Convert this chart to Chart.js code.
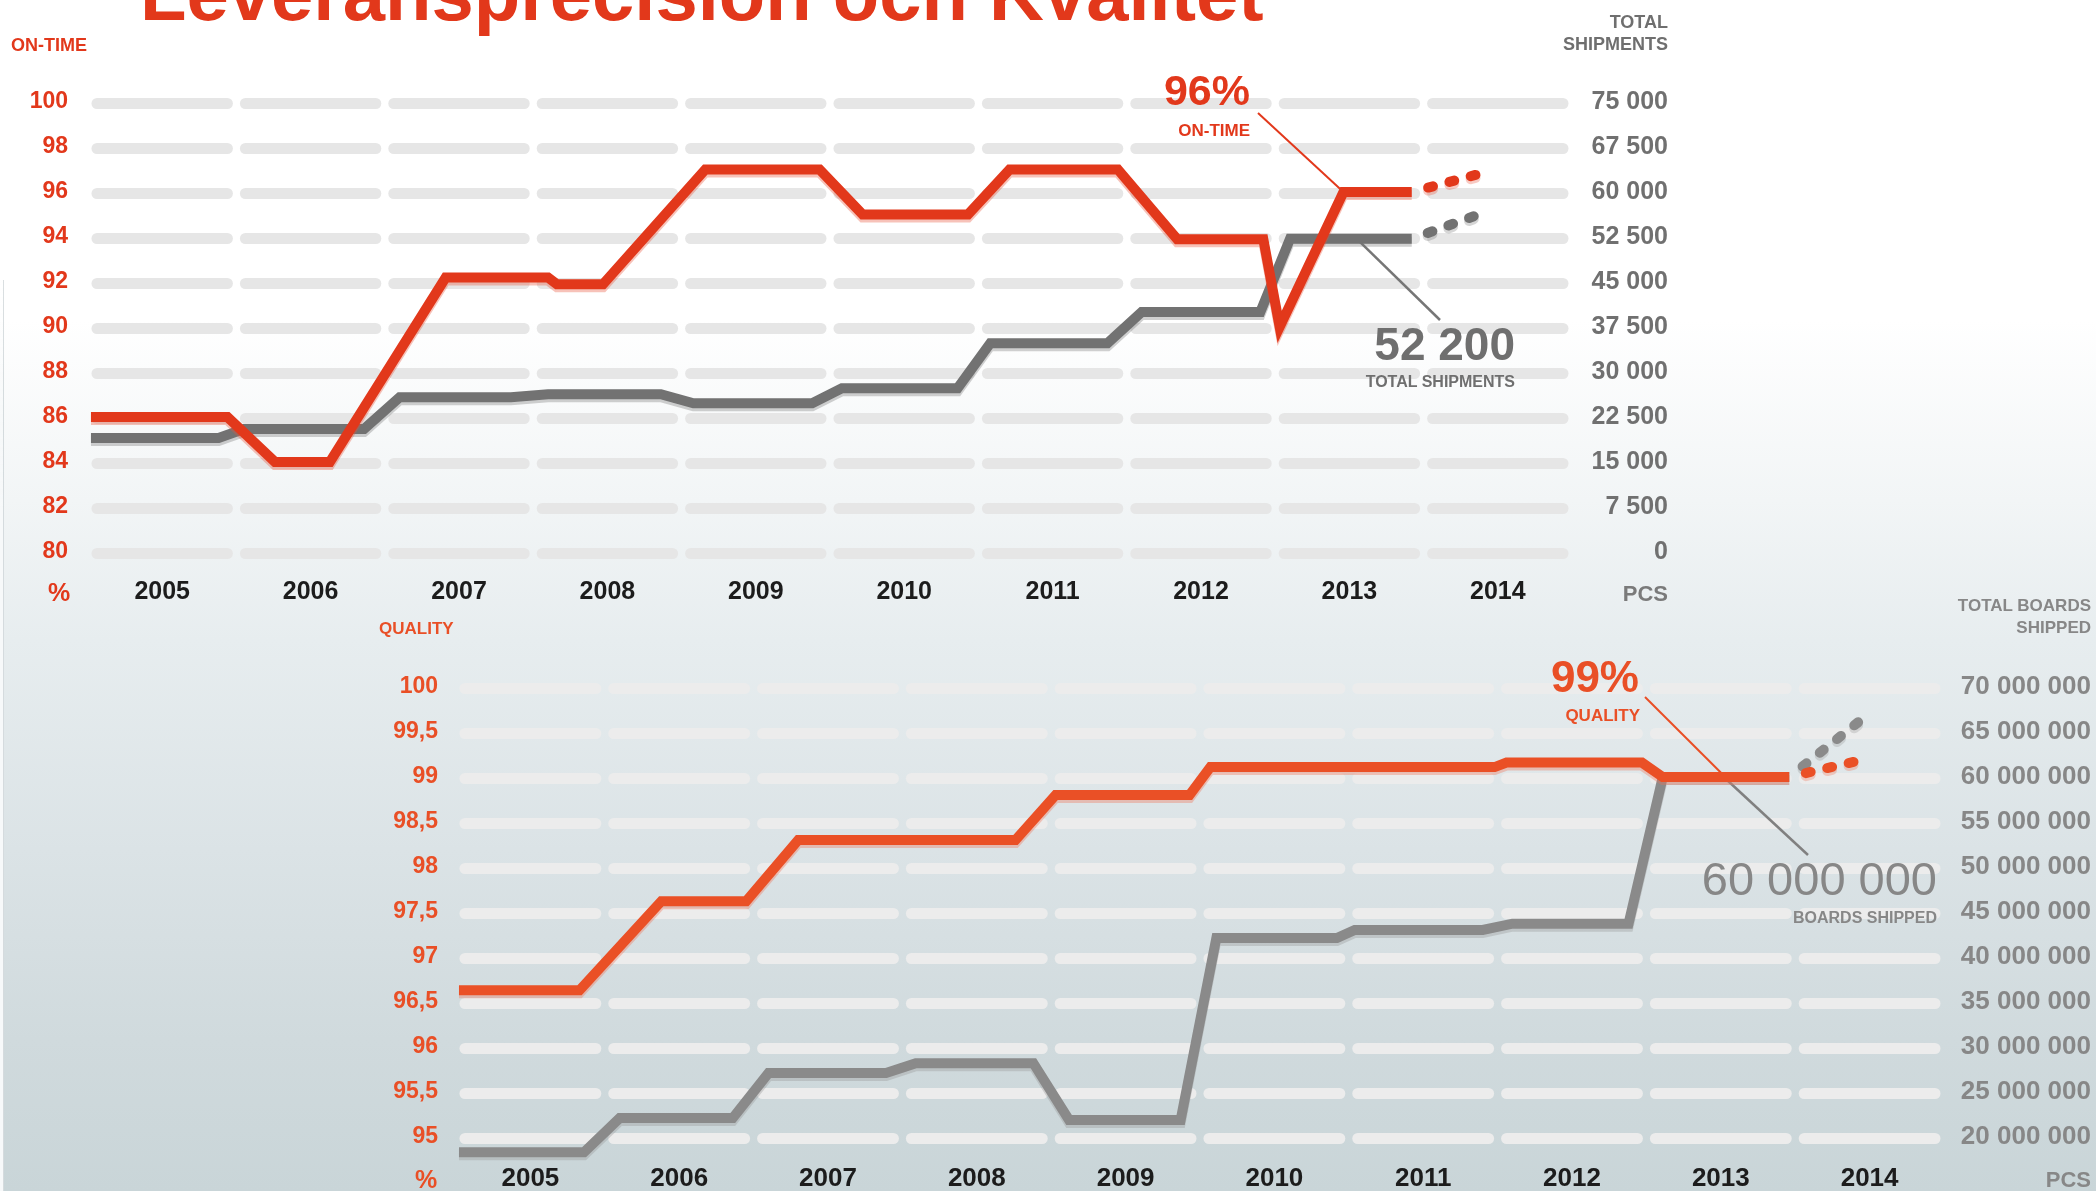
<!DOCTYPE html>
<html>
<head>
<meta charset="utf-8">
<title>Leveransprecision och Kvalitet</title>
<script src="https://cdn.jsdelivr.net/npm/chart.js"></script>
<style>
  html, body { margin: 0; padding: 0; }
  body {
    width: 2096px; height: 1191px; overflow: hidden; position: relative;
    font-family: "Liberation Sans", Arial, sans-serif;
    background: linear-gradient(to bottom, #ffffff 0px, #ffffff 320px, #f2f5f6 500px, #e7edef 640px,
                #dbe3e6 850px, #d0dadd 1040px, #c9d5d8 1191px);
  }
  .edge { position: absolute; left: 0; top: 280px; width: 3px; height: 911px;
          background: linear-gradient(to bottom, rgba(255,255,255,0), #f7f9fa 25%);
          border-right: 1px solid rgba(150,162,168,0.35); }
  .wrap { position: absolute; }
  #topWrap { left: 0; top: 0; width: 1720px; height: 625px; }
  #botWrap { left: 360px; top: 595px; width: 1736px; height: 596px; }
  .t { position: absolute; white-space: nowrap; line-height: 1; font-weight: bold; }
  .red { color: #e2381b; }
  .orange { color: #e94f26; }
  .grey { color: #6f6f6f; }
  .grey2 { color: #878787; }
</style>
</head>
<body>
<div class="edge"></div>
<div class="wrap" id="topWrap"><canvas id="onTimeChart" width="1720" height="625"></canvas></div>
<div class="wrap" id="botWrap"><canvas id="qualityChart" width="1736" height="596"></canvas></div>

<!-- headings and call-outs -->
<div class="t red" style="left:140px; top:-44px; font-size:76px;">Leveransprecision och Kvalitet</div>

<div class="t red" style="left:11px; top:36px; font-size:18px;">ON-TIME</div>
<div class="t grey" style="right:428px; top:13px; font-size:18px;">TOTAL</div>
<div class="t grey" style="right:428px; top:35px; font-size:18px;">SHIPMENTS</div>
<div class="t red" style="left:48px; top:580px; font-size:25px;">%</div>
<div class="t grey" style="right:428px; top:583px; font-size:22px; color:#7a7a7a;">PCS</div>

<div class="t red" style="right:846px; top:69px; font-size:43px;">96%</div>
<div class="t red" style="right:846px; top:122px; font-size:17px;">ON-TIME</div>
<div class="t grey" style="right:581px; top:321px; font-size:46px;">52 200</div>
<div class="t grey" style="right:581px; top:374px; font-size:16px;">TOTAL SHIPMENTS</div>

<div class="t orange" style="left:379px; top:620px; font-size:17px;">QUALITY</div>
<div class="t grey2" style="right:5px; top:597px; font-size:17px;">TOTAL BOARDS</div>
<div class="t grey2" style="right:5px; top:619px; font-size:17px;">SHIPPED</div>
<div class="t orange" style="left:415px; top:1167px; font-size:25px;">%</div>
<div class="t grey2" style="right:5px; top:1169px; font-size:22px;">PCS</div>

<div class="t orange" style="right:457px; top:655px; font-size:44px;">99%</div>
<div class="t orange" style="right:456px; top:707px; font-size:17px;">QUALITY</div>
<div class="t grey2" style="right:159px; top:855px; font-size:47px; font-weight:normal;">60 000 000</div>
<div class="t grey2" style="right:159px; top:910px; font-size:16px;">BOARDS SHIPPED</div>

<script>
// ---- years on the horizontal axis ----
const yearTicks = [2005, 2006, 2007, 2008, 2009, 2010, 2011, 2012, 2013, 2014];

// ---- on-time delivery, % (left axis, upper chart) ----
const onTimeYear = [2004.52, 2005.44, 2005.76, 2006.13, 2006.91, 2007.60, 2007.66, 2007.97, 2008.66, 2009.43,
                    2009.72, 2010.43, 2010.71, 2011.44, 2011.84, 2012.42, 2012.53, 2012.96, 2013.42];
const onTimePct  = [86, 86, 84, 84, 92.2, 92.2, 91.9, 91.9, 97, 97,
                    95, 95, 97, 97, 93.9, 93.9, 90, 96, 96];
const onTimeForecastYear = [2013.42, 2013.93];
const onTimeForecastPct  = [96, 96.9];

// ---- total shipments, pcs (right axis, upper chart) ----
const shipYear  = [2004.52, 2005.38, 2005.55, 2006.36, 2006.60, 2007.35, 2007.60, 2008.36, 2008.58, 2009.38,
                   2009.58, 2010.36, 2010.58, 2011.37, 2011.60, 2012.40, 2012.60, 2013.42];
const shipments = [19000, 19000, 20500, 20500, 25800, 25800, 26300, 26300, 24800, 24800,
                   27300, 27300, 34800, 34800, 40000, 40000, 52200, 52200];
const shipForecastYear = [2013.42, 2013.92];
const shipForecast     = [52200, 56700];

// ---- quality, % (left axis, lower chart) ----
const qualityYear = [2004.52, 2005.33, 2005.88, 2006.45, 2006.80, 2008.26, 2008.53, 2009.43, 2009.57, 2011.48,
                     2011.56, 2012.47, 2012.61, 2013.46];
const qualityPct  = [96.63, 96.63, 97.62, 97.62, 98.3, 98.3, 98.8, 98.8, 99.11, 99.11,
                     99.16, 99.16, 99, 99];
const qualityForecastYear = [2013.46, 2013.95];
const qualityForecastPct  = [99, 99.19];

// ---- total boards shipped, pcs (right axis, lower chart) ----
const boardsYear    = [2004.52, 2005.36, 2005.60, 2006.36, 2006.60, 2007.39, 2007.59, 2008.38, 2008.62, 2009.37,
                       2009.61, 2010.42, 2010.54, 2011.40, 2011.60, 2012.38, 2012.61, 2013.46];
const boardsShipped = [18300000, 18300000, 22100000, 22100000, 27100000, 27100000, 28200000, 28200000, 21900000, 21900000,
                       42100000, 42100000, 43000000, 43000000, 43700000, 43700000, 60000000, 60000000];
const boardsForecastYear = [2013.46, 2013.97];
const boardsForecast     = [60000000, 66700000];

// ---- axis tick values ----
const onTimeTicks   = [80, 82, 84, 86, 88, 90, 92, 94, 96, 98, 100];
const shipmentTicks = [0, 7500, 15000, 22500, 30000, 37500, 45000, 52500, 60000, 67500, 75000];
const qualityTicks  = [95, 95.5, 96, 96.5, 97, 97.5, 98, 98.5, 99, 99.5, 100];
const boardTicks    = [20000000, 25000000, 30000000, 35000000, 40000000, 45000000, 50000000, 55000000, 60000000, 65000000, 70000000];

const FAMILY = '"Liberation Sans", Arial, sans-serif';
const spaced = v => String(Math.round(v)).replace(/\B(?=(\d{3})+(?!\d))/g, ' ');
const series = (xs, ys) => xs.map((x, i) => ({ x, y: ys[i] }));

// rounded grey bands behind the plot, one per year column and value tick
const bandPlugin = {
  id: 'bands',
  beforeDatasetsDraw(chart, args, opts) {
    const { ctx, scales } = chart;
    const xs = scales.x, ys = scales.pct;
    ctx.save();
    ctx.fillStyle = opts.color;
    ys.ticks.forEach(t => {
      const y = ys.getPixelForValue(t.value) + 1.5;
      yearTicks.forEach(yr => {
        const x0 = xs.getPixelForValue(yr - 0.5) + 3.5;
        const x1 = xs.getPixelForValue(yr + 0.5) - 3.5;
        ctx.beginPath();
        ctx.roundRect(x0, y - 5.5, x1 - x0, 11, 5.5);
        ctx.fill();
      });
    });
    ctx.restore();
  }
};

// thin leader lines from the call-out texts to the series
const leaderPlugin = {
  id: 'leaders',
  beforeDatasetsDraw(chart, args, opts) {
    const { ctx, scales } = chart;
    (opts.lines || []).forEach(l => {
      const x = scales.x.getPixelForValue(l.year);
      const y = scales[l.axis].getPixelForValue(l.value);
      ctx.save();
      ctx.strokeStyle = l.color;
      ctx.lineWidth = l.width;
      ctx.beginPath();
      ctx.moveTo(l.from[0], l.from[1]);
      ctx.lineTo(x, y);
      ctx.stroke();
      ctx.restore();
    });
  }
};

// light offset tint under each line
const tintPlugin = {
  id: 'lineTint',
  beforeDatasetDraw(chart, args) {
    const ds = chart.data.datasets[args.index];
    const ctx = chart.ctx;
    ctx.save();
    ctx.shadowColor = ds.tint || 'rgba(0,0,0,0)';
    ctx.shadowOffsetY = 3;
    ctx.shadowBlur = 0;
  },
  afterDatasetDraw(chart) { chart.ctx.restore(); }
};

function lineSet(data, color, tint, axis, dashed) {
  return {
    data, yAxisID: axis, borderColor: color, borderWidth: 10, tint,
    pointRadius: 0, pointHoverRadius: 0, tension: 0, fill: false, clip: false,
    borderJoinStyle: 'miter',
    borderCapStyle: dashed ? 'round' : 'butt',
    borderDash: dashed ? [5, 17] : [],
    borderDashOffset: dashed ? 5 : 0
  };
}

function buildChart(id, cfg) {
  return new Chart(document.getElementById(id), {
    type: 'line',
    data: { datasets: cfg.datasets },
    options: {
      responsive: false, animation: false, events: [],
      layout: { padding: { top: cfg.areaTop, left: 0, right: cfg.canvasWidth - cfg.rightEdge, bottom: 0 } },
      plugins: { legend: { display: false }, tooltip: { enabled: false },
                 bands: { color: cfg.bandColor }, leaders: { lines: cfg.leaders } },
      scales: {
        x: {
          type: 'linear', min: 2004.5, max: 2014.5,
          afterBuildTicks: s => { s.ticks = yearTicks.map(v => ({ value: v })); },
          afterFit: s => { s.height = cfg.xHeight; },
          grid: { display: false, drawTicks: false }, border: { display: false },
          ticks: { autoSkip: false, maxRotation: 0, padding: cfg.xPad, color: '#1c1c1c',
                   font: { family: FAMILY, size: cfg.yearSize, weight: 'bold' },
                   callback: v => String(v) }
        },
        pct: {
          type: 'linear', position: 'left', min: cfg.leftTicks[0], max: cfg.leftTicks[cfg.leftTicks.length - 1],
          afterBuildTicks: s => { s.ticks = cfg.leftTicks.map(v => ({ value: v })); },
          afterFit: s => { s.width = cfg.areaLeft; },
          grid: { display: false, drawTicks: false }, border: { display: false },
          ticks: { padding: cfg.leftPad, color: cfg.leftColor,
                   font: { family: FAMILY, size: 23, weight: 'bold' },
                   callback: v => String(v).replace('.', ',') }
        },
        pcs: {
          type: 'linear', position: 'right', min: cfg.rightTicks[0], max: cfg.rightTicks[cfg.rightTicks.length - 1],
          afterBuildTicks: s => { s.ticks = cfg.rightTicks.map(v => ({ value: v })); },
          afterFit: s => { s.width = cfg.rightEdge - cfg.areaRight; },
          grid: { display: false, drawTicks: false }, border: { display: false },
          ticks: { padding: 8, crossAlign: 'far', color: cfg.rightColor,
                   font: { family: FAMILY, size: cfg.rightSize, weight: 'bold' },
                   callback: v => spaced(v) }
        }
      }
    },
    plugins: [bandPlugin, leaderPlugin, tintPlugin]
  });
}

// upper chart: on-time delivery and total shipments
buildChart('onTimeChart', {
  canvasWidth: 1720, areaTop: 102, areaLeft: 88, areaRight: 1572, xHeight: 73,
  xPad: 25, yearSize: 25, leftPad: 20, leftColor: '#e2381b', leftTicks: onTimeTicks,
  rightTicks: shipmentTicks, rightSize: 25, rightEdge: 1668, rightColor: '#707070',
  bandColor: '#e6e6e6',
  leaders: [
    { from: [1258, 113], year: 2012.96, value: 96, axis: 'pct', color: '#e2381b', width: 2 },
    { from: [1440, 320], year: 2013.05, value: 52200, axis: 'pcs', color: '#767676', width: 2.5 }
  ],
  datasets: [
    lineSet(series(onTimeYear, onTimePct), '#e2381b', 'rgba(232,80,55,0.35)', 'pct', false),
    lineSet(series(onTimeForecastYear, onTimeForecastPct), '#e2381b', 'rgba(232,80,55,0.3)', 'pct', true),
    lineSet(series(shipYear, shipments), '#727272', 'rgba(120,120,120,0.35)', 'pcs', false),
    lineSet(series(shipForecastYear, shipForecast), '#727272', 'rgba(120,120,120,0.3)', 'pcs', true)
  ]
});

// lower chart: quality and total boards shipped
buildChart('qualityChart', {
  canvasWidth: 1736, areaTop: 92, areaLeft: 96, areaRight: 1584, xHeight: 54,
  xPad: 26, yearSize: 26, leftPad: 18, leftColor: '#e94f26', leftTicks: qualityTicks,
  rightTicks: boardTicks, rightSize: 26, rightEdge: 1731, rightColor: '#878787',
  bandColor: '#ececec',
  leaders: [
    { from: [1285, 102], year: 2013.03, value: 99, axis: 'pct', color: '#e94f26', width: 2 },
    { from: [1448, 260], year: 2013.02, value: 60000000, axis: 'pcs', color: '#808080', width: 2.5 }
  ],
  datasets: [
    lineSet(series(qualityYear, qualityPct), '#ea5026', 'rgba(240,110,80,0.35)', 'pct', false),
    lineSet(series(qualityForecastYear, qualityForecastPct), '#ea5026', 'rgba(240,110,80,0.3)', 'pct', true),
    lineSet(series(boardsYear, boardsShipped), '#8a8a8a', 'rgba(150,150,150,0.35)', 'pcs', false),
    lineSet(series(boardsForecastYear, boardsForecast), '#8a8a8a', 'rgba(150,150,150,0.3)', 'pcs', true)
  ]
});
</script>
</body>
</html>
